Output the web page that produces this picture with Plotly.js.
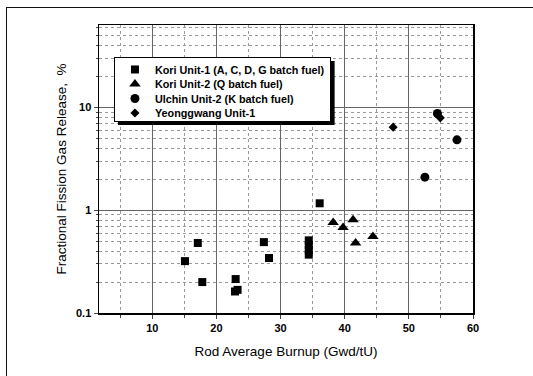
<!DOCTYPE html>
<html><head><meta charset="utf-8">
<script src="https://cdn.plot.ly/plotly-3.0.1.min.js"></script>
<style>body{margin:0;background:#fff}#wrap{position:relative;width:533px;height:376px;overflow:hidden}#frame{position:absolute;left:6px;top:7px;width:540px;height:400px;border-left:1.5px solid #111;border-top:1.5px solid #111;pointer-events:none}</style>
</head><body><div id="wrap"><div id="plot" style="width:533px;height:376px"></div><div id="frame"></div></div>
<script>
const koriU1_x = [15.1, 17.1, 17.8, 23.0, 22.9, 23.3, 27.4, 28.2, 34.4, 34.4, 34.4, 34.4, 36.1];
const koriU1_y = [0.32, 0.48, 0.20, 0.214, 0.162, 0.168, 0.49, 0.343, 0.37, 0.41, 0.46, 0.51, 1.17];
const koriU2_x = [38.2, 39.75, 41.3, 41.7, 44.4];
const koriU2_y = [0.76, 0.68, 0.81, 0.48, 0.556];
const ulchin_x = [52.5, 54.45, 57.5];
const ulchin_y = [2.1, 8.75, 4.85];
const yeong_x = [47.55, 54.9];
const yeong_y = [6.45, 7.94];
const names = ['Kori Unit-1 (A, C, D, G batch fuel)', 'Kori Unit-2 (Q batch fuel)', 'Ulchin Unit-2 (K batch fuel)', 'Yeonggwang Unit-1'];

const F = 'Liberation Sans, Arial, sans-serif';
const mk = (x, y, name, symbol, size) => ({x, y, name, type: 'scatter', mode: 'markers',
  marker: {symbol, size, color: '#000'}});
const data = [
  mk(koriU1_x, koriU1_y, names[0], 'square', 8),
  mk(koriU2_x, koriU2_y, names[1], 'triangle-up', 10),
  mk(ulchin_x, ulchin_y, names[2], 'circle', 9),
  mk(yeong_x, yeong_y, names[3], 'diamond', 7)
];
const layout = {
  width: 533, height: 376,
  margin: {l: 99, r: 60, t: 25, b: 63},
  paper_bgcolor: 'rgba(0,0,0,0)', plot_bgcolor: '#fff',
  font: {family: F, color: '#000', size: 11},
  showlegend: true,
  legend: {x: 0.040, y: 0.889, xanchor: 'left', yanchor: 'top', bgcolor: '#fff',
    bordercolor: '#000', borderwidth: 1, font: {family: F, size: 10.8, weight: 'bold'},
    tracegroupgap: 0, itemwidth: 30},
  xaxis: {range: [1.7, 60], dtick: 10, tick0: 0, ticks: 'outside', ticklen: 4,
    showline: true, linecolor: '#000', linewidth: 1.5, mirror: true,
    showgrid: true, gridcolor: '#666', gridwidth: 1, zeroline: false,
    tickfont: {family: F, size: 11, weight: 'bold'},
    minor: {dtick: 5, tick0: 0, showgrid: true, gridcolor: '#999', griddash: 'dot', ticks: 'outside', ticklen: 3},
    title: {text: 'Rod Average Burnup (Gwd/tU)', font: {family: F, size: 13.5}, standoff: 14}},
  yaxis: {type: 'log', range: [-1, 1.804], dtick: 1, ticks: 'outside', ticklen: 4,
    showline: true, linecolor: '#000', linewidth: 1.5, mirror: true,
    showgrid: true, gridcolor: '#666', gridwidth: 1, zeroline: false,
    tickfont: {family: F, size: 11, weight: 'bold'},
    minor: {dtick: 'D1', showgrid: true, gridcolor: '#999', griddash: 'dot', ticks: 'outside', ticklen: 2},
    title: {text: 'Fractional Fission Gas Release,  %', font: {family: F, size: 13.5}, standoff: 6}},
  shapes: [{type: 'rect', xref: 'paper', yref: 'paper', x0: 0.0508, x1: 0.630, y0: 0.653, y1: 0.875,
    fillcolor: '#000', line: {width: 0}, layer: 'above'}]
};
Plotly.newPlot('plot', data, layout, {displayModeBar: false, staticPlot: true}).then(gd => {
  // tighten legend row spacing to match the original figure
  const items = gd.querySelectorAll('.legend .traces');
  const step = 14.5, shift = -3, boxH = 64;
  let y0 = null;
  items.forEach((it, i) => {
    const m = /translate\(([-\d.]+)[ ,]+([-\d.]+)\)/.exec(it.getAttribute('transform') || '');
    if (!m) return;
    if (y0 === null) y0 = parseFloat(m[2]) + shift;
    it.setAttribute('transform', `translate(${m[1]},${y0 + i * step})`);
  });
  const bg = gd.querySelector('.legend .bg');
  if (bg) bg.setAttribute('height', boxH);
});
</script></body></html>
